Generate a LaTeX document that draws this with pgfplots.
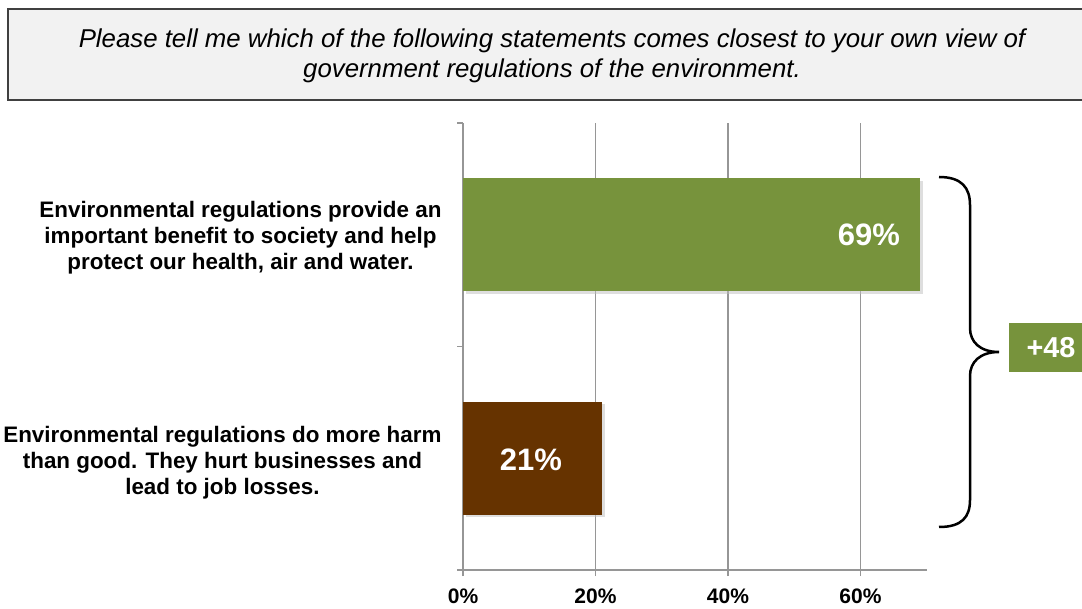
\documentclass[border=0pt]{standalone}
\usepackage{fontspec}
\setmainfont{Liberation Sans}
\usepackage{pgfplots}
\pgfplotsset{compat=1.18}
\usetikzlibrary{shadows}
\definecolor{olive}{HTML}{77933C}
\definecolor{brownbar}{HTML}{663300}
\definecolor{gridgray}{HTML}{969696}
\definecolor{boxfill}{HTML}{F2F2F2}
\definecolor{boxline}{HTML}{404040}
\begin{document}
\begin{tikzpicture}
\useasboundingbox (0,0) rectangle (1082pt,608pt);
\fill[white] (0,0) rectangle (1082pt,608pt);

\begin{axis}[
    at={(463pt,38pt)}, anchor=south west,
    scale only axis, width=463.75pt, height=447pt,
    xbar, bar width=113pt, bar shift=0pt,
    xmin=0, xmax=70, ymin=-0.5, ymax=1.5,
    axis x line=bottom, axis y line=left,
    axis line style={-, gridgray, line width=1.5pt},
    xtick={0,20,40,60},
    xticklabels={0\%,20\%,40\%,60\%},
    ytick={-0.5,0.5,1.5}, yticklabels={},
    tick align=outside, major tick length=6pt,
    tick style={gridgray, line width=1.5pt},
    xmajorgrids, grid style={gridgray, line width=1.5pt},
    xticklabel style={font=\fontsize{21}{25}\selectfont\bfseries, text=black, yshift=-9pt},
    clip=false,
    ]
\addplot[fill=olive, draw=none, drop shadow={shadow xshift=2.5pt, shadow yshift=-2.5pt, fill=black!25}] coordinates {(69,1)};
\addplot[fill=brownbar, draw=none, drop shadow={shadow xshift=2.5pt, shadow yshift=-2.5pt, fill=black!25}] coordinates {(21,0)};
\end{axis}

\begin{scope}[x=1pt, y=-1pt, yshift=608pt]
  % question box
  \draw[fill=boxfill, draw=boxline, line width=2pt] (8,9) rectangle (1100,100);
  \node[align=center, font=\fontsize{25.8}{30}\selectfont\itshape] at (552,56)
    {Please tell me which of the following statements comes closest to your own view of\\
     government regulations of the environment.};
  % category labels
  \node[anchor=east, align=center, font=\fontsize{22.4}{26}\selectfont\bfseries] at (445,238)
    {Environmental regulations provide an\\important benefit to society and help\\protect our health, air and water.};
  \node[anchor=east, align=center, font=\fontsize{22.4}{26}\selectfont\bfseries] at (445,463)
    {Environmental regulations do more harm\\than good. They hurt businesses and\\lead to job losses.};
  % bar values
  \node[text=white, font=\fontsize{31}{34}\selectfont\bfseries] at (869,235) {69\%};
  \node[text=white, font=\fontsize{31}{34}\selectfont\bfseries] at (531,460) {21\%};
  % brace
  \draw[line width=2.5pt, black]
    (939,177) .. controls (962,177) and (970,188) .. (970,205)
    -- (970,328) .. controls (970,342) and (980,352) .. (999,352)
    .. controls (980,352) and (970,362) .. (970,376)
    -- (970,500) .. controls (970,517) and (962,527) .. (939,527);
  % difference box
  \fill[olive] (1009,323) rectangle (1100,372);
  \node[text=white, font=\fontsize{28.8}{31}\selectfont\bfseries] at (1051,348) {+48};
\end{scope}
\end{tikzpicture}
\end{document}
